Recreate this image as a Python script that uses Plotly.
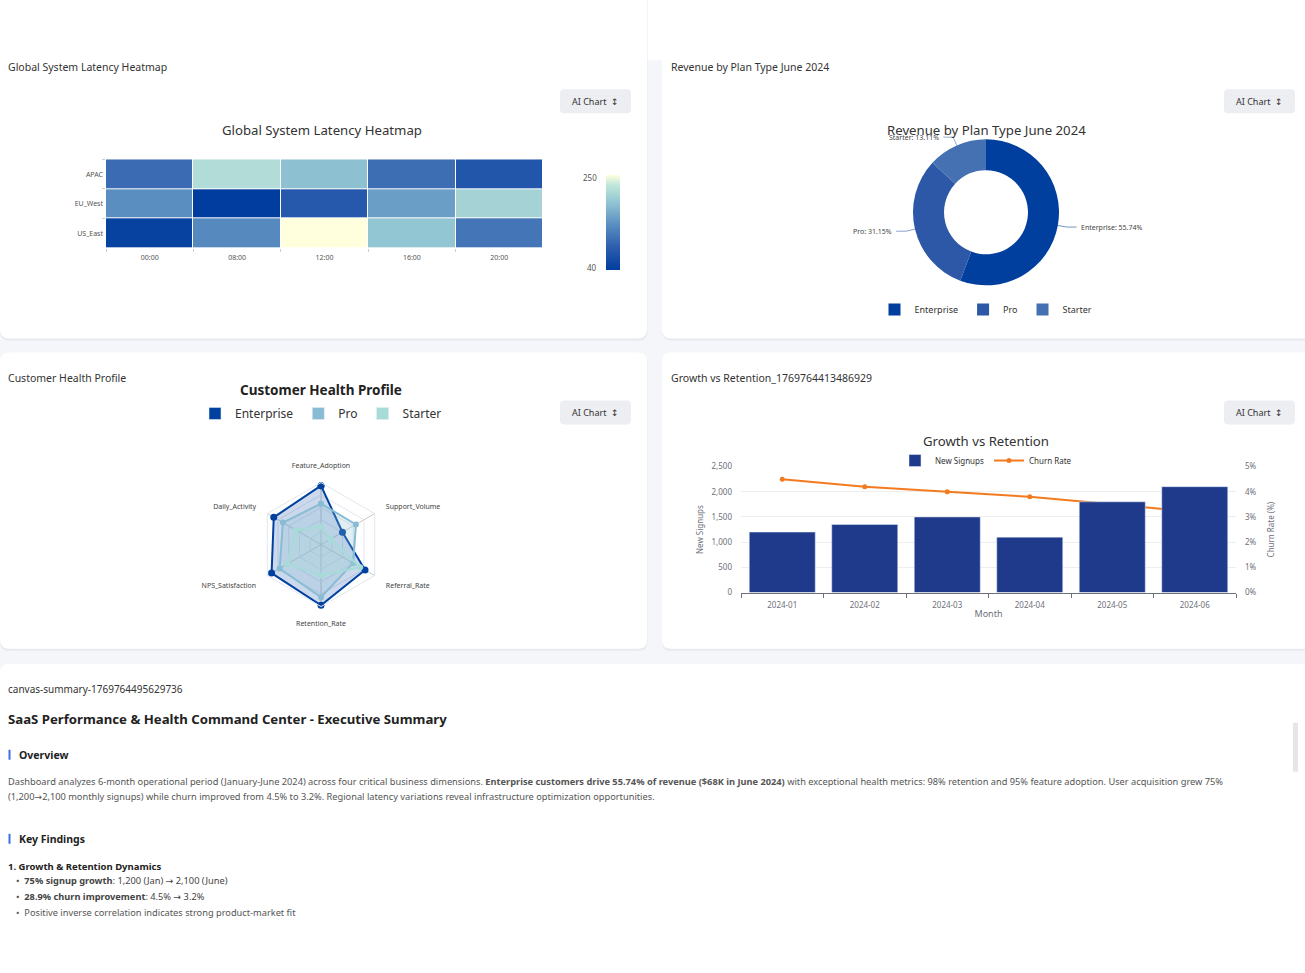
import math
import plotly.graph_objects as go

W, H = 1305, 973
# pixel -> paper fraction; small vertical compensation
# for the capture pipeline (page is rendered slightly compressed/offset vertically)
Y_OFF, Y_SCALE = 5.8, 0.988
def fx(x): return x / W
def fy(y): return 1 - ((y - Y_OFF) / Y_SCALE) / H

# ---------------- data ----------------
hours = ['00:00', '08:00', '12:00', '16:00', '20:00']
regions = ['APAC', 'EU_West', 'US_East']
latency_apac = [105, 215, 185, 108, 78]
latency_eu_west = [140, 40, 82, 155, 205]
latency_us_east = [48, 135, 250, 190, 115]
latency_min, latency_max = 40, 250

plans = ['Enterprise', 'Pro', 'Starter']
revenue_k = [68, 38, 16]

health_metrics = ['Feature_Adoption', 'Support_Volume', 'Referral_Rate',
                  'Retention_Rate', 'NPS_Satisfaction', 'Daily_Activity']
health_enterprise = [95, 40, 82, 98, 92, 88]
health_pro = [66, 65, 60, 85, 77, 71]
health_starter = [29, 18, 73, 50, 63, 47]

months = ['2024-01', '2024-02', '2024-03', '2024-04', '2024-05', '2024-06']
new_signups = [1200, 1350, 1500, 1100, 1800, 2100]
churn_rate = [4.5, 4.2, 4.0, 3.8, 3.5, 3.2]

# ---------------- styles ----------------
FONT = 'Noto Sans, Open Sans, DejaVu Sans, sans-serif'
TXT = '#333333'
AX = '#6e7079'
plan_colors = ['#003f9e', '#2d57a7', '#4570b2']
radar_colors = ['#0041a0', '#88bcd4', '#a6dbd8']
radar_fills = ['rgba(0,65,160,0.20)', 'rgba(136,188,212,0.25)', 'rgba(166,219,216,0.25)']
heat_scale = [[0, '#003d9e'], [0.25, '#2f5fae'], [0.5, '#5f93c2'],
              [0.7, '#8fc3d2'], [0.9, '#c2e8da'], [1, '#ffffdd']]

fig = go.Figure()

# ---------------- heatmap ----------------
fig.add_trace(go.Heatmap(
    z=[latency_apac, latency_eu_west, latency_us_east], x=hours, y=regions,
    zmin=latency_min, zmax=latency_max, colorscale=heat_scale,
    xgap=1, ygap=1, xaxis='x', yaxis='y',
    colorbar=dict(x=fx(606), xanchor='left', y=fy(270), yanchor='bottom',
                  len=fy(175) - fy(270), lenmode='fraction', thickness=14, thicknessmode='pixels',
                  outlinewidth=0, showticklabels=False, ticks='', xpad=0, ypad=0),
))

# ---------------- donut ----------------
fig.add_trace(go.Pie(
    labels=plans, values=revenue_k, hole=0.575, sort=False, direction='clockwise',
    rotation=0, textinfo='none', marker=dict(colors=plan_colors, line=dict(width=0)),
    domain=dict(x=[fx(913), fx(1059)], y=[fy(286), fy(138)]),
    legend='legend2', showlegend=True,
))

# leader lines and labels computed from the data
cx, cy, R = 986, 212, 73
total = sum(revenue_k)
cum = 0.0
pie_annots = []
for lab, v, col in zip(plans, revenue_k, plan_colors):
    frac = v / total
    mid = (cum + frac / 2) * 2 * math.pi
    cum += frac
    sx, sy = math.sin(mid), -math.cos(mid)
    p0 = (cx + R * sx, cy + R * sy)
    p1 = (cx + (R + 9) * sx, cy + (R + 9) * sy)
    side = 1 if sx >= 0 else -1
    p2 = (p1[0] + side * 10, p1[1])
    fig.add_trace(go.Scatter(x=[p0[0], p1[0], p2[0]], y=[p0[1], p1[1], p2[1]],
                             mode='lines', line=dict(color=col, width=1), opacity=0.55,
                             xaxis='x4', yaxis='y4', showlegend=False, hoverinfo='skip'))
    pie_annots.append(dict(x=p2[0] + side * 2, y=p2[1], xref='x4', yref='y4',
                           text=f'{lab}: {frac * 100:.2f}%', showarrow=False,
                           xanchor='left' if side > 0 else 'right', yanchor='middle',
                           font=dict(size=7, color='#444', family=FONT)))

# ---------------- radar ----------------
for name, vals, col, fc, ms in zip(plans, [health_enterprise, health_pro, health_starter],
                                   radar_colors, radar_fills, [7, 6, 6]):
    fig.add_trace(go.Scatterpolar(
        r=vals + [vals[0]], theta=health_metrics + [health_metrics[0]],
        mode='lines+markers', fill='toself', fillcolor=fc,
        line=dict(color=col, width=2), marker=dict(color=col, size=ms),
        name=name, showlegend=False, subplot='polar'))
    fig.add_trace(go.Bar(x=[None], y=[None], name=name, marker_color=col,
                         xaxis='x5', yaxis='y5', legend='legend3', showlegend=True))

# ---------------- growth vs retention ----------------
fig.add_trace(go.Scatter(
    x=months, y=churn_rate, name='Churn Rate', mode='lines+markers',
    line=dict(color='#f47a20', width=2), marker=dict(color='#f47a20', size=5),
    xaxis='x2', yaxis='y2', legend='legend'))
fig.add_trace(go.Bar(
    x=months, y=new_signups, name='New Signups', marker_color='#1f3a8a',
    width=0.8, xaxis='x2', yaxis='y3', legend='legend'))

# ---------------- shapes (cards, buttons) ----------------
def rrect(x0, y0, x1, y1, r):
    X = lambda v: fx(v)
    Y = lambda v: fy(v)
    return (f'M {X(x0 + r)},{Y(y0)} L {X(x1 - r)},{Y(y0)} Q {X(x1)},{Y(y0)} {X(x1)},{Y(y0 + r)} '
            f'L {X(x1)},{Y(y1 - r)} Q {X(x1)},{Y(y1)} {X(x1 - r)},{Y(y1)} '
            f'L {X(x0 + r)},{Y(y1)} Q {X(x0)},{Y(y1)} {X(x0)},{Y(y1 - r)} '
            f'L {X(x0)},{Y(y0 + r)} Q {X(x0)},{Y(y0)} {X(x0 + r)},{Y(y0)} Z')

shapes = [dict(type='rect', xref='paper', yref='paper', x0=0, x1=1, y0=-0.05, y1=fy(60),
               fillcolor='#f4f6f9', line=dict(width=0), layer='below')]
cards = [(0, -20, 647, 338), (662, -20, 1325, 338), (0, 352, 647, 648),
         (662, 352, 1325, 648), (0, 663, 1325, 1000)]
for (a, b, c, d) in cards:
    shapes.append(dict(type='path', xref='paper', yref='paper', path=rrect(a, b + 1.5, c + 0.5, d + 2, 9),
                       fillcolor='#e6e9ee', line=dict(width=0), layer='below'))
    shapes.append(dict(type='path', xref='paper', yref='paper', path=rrect(a, b, c, d, 9),
                       fillcolor='#ffffff', line=dict(width=0), layer='below'))
buttons = [(560, 89, 631, 113), (1224, 89, 1295, 113), (560, 400, 631, 424), (1224, 400, 1295, 424)]
for (a, b, c, d) in buttons:
    shapes.append(dict(type='path', xref='paper', yref='paper', path=rrect(a, b, c, d, 4),
                       fillcolor='#eceef2', line=dict(width=0), layer='below'))
# section markers and scrollbar
for yy in (754, 838):
    shapes.append(dict(type='rect', xref='paper', yref='paper', x0=fx(8.5), x1=fx(10.5),
                       y0=fy(yy + 5), y1=fy(yy - 5), fillcolor='#3a6ee8', line=dict(width=0)))
shapes.append(dict(type='rect', xref='paper', yref='paper', x0=fx(1293), x1=fx(1298),
                   y0=fy(771), y1=fy(722), fillcolor='#e6e6e6', line=dict(width=0)))

# ---------------- annotations ----------------
def txt(x, y, s, size, color=TXT, anchor='left', bold=False, ya='middle'):
    return dict(x=fx(x), y=fy(y), xref='paper', yref='paper', text=(f'<b>{s}</b>' if bold else s),
                showarrow=False, xanchor=anchor, yanchor=ya,
                font=dict(size=size, color=color, family=FONT))

annots = []
annots += pie_annots
annots += [
    txt(6, 67, 'Global System Latency Heatmap', 10.5),
    txt(669, 67, 'Revenue by Plan Type June 2024', 10.5),
    txt(6, 378, 'Customer Health Profile', 10.5),
    txt(669, 378, 'Growth vs Retention_1769764413486929', 10.5),
    txt(322, 130, 'Global System Latency Heatmap', 13.2, anchor='center'),
    txt(986, 130, 'Revenue by Plan Type June 2024', 13.2, anchor='center'),
    txt(321, 390, 'Customer Health Profile', 13.5, color='#222', anchor='center', bold=True),
    txt(986, 440, 'Growth vs Retention', 13.2, anchor='center'),
    txt(599, 177, str(latency_max), 8, color='#555', anchor='right'),
    txt(599, 267, str(latency_min), 8, color='#555', anchor='right'),
]
for (a, b, c, d) in buttons:
    annots.append(txt((a + c) / 2, (b + d) / 2, 'AI Chart&nbsp;&nbsp;↕', 9, color='#333', anchor='center'))

annots += [
    txt(6, 688, 'canvas-summary-1769764495629736', 10, color='#333'),
    txt(6, 718, 'SaaS Performance &amp; Health Command Center - Executive Summary', 13.2, color='#222', bold=True),
    txt(17, 754, 'Overview', 10.5, color='#222', bold=True),
    txt(6, 781, 'Dashboard analyzes 6-month operational period (January-June 2024) across four critical business dimensions. '
              '<b>Enterprise customers drive 55.74% of revenue ($68K in June 2024)</b> with exceptional health metrics: '
              '98% retention and 95% feature adoption. User acquisition grew 75%', 9.25, color='#555'),
    txt(6, 796, '(1,200→2,100 monthly signups) while churn improved from 4.5% to 3.2%. '
              'Regional latency variations reveal infrastructure optimization opportunities.', 9.25, color='#555'),
    txt(17, 838, 'Key Findings', 10.5, color='#222', bold=True),
    txt(6, 866, '1. Growth &amp; Retention Dynamics', 9.5, color='#222', bold=True),
    txt(14, 880, '•&nbsp;&nbsp;<b>75% signup growth</b>: 1,200 (Jan) → 2,100 (June)', 9.25, color='#444'),
    txt(14, 896, '•&nbsp;&nbsp;<b>28.9% churn improvement</b>: 4.5% → 3.2%', 9.25, color='#444'),
    txt(14, 912, '•&nbsp;&nbsp;Positive inverse correlation indicates strong product-market fit', 9.25, color='#555'),
]

# ---------------- layout ----------------
axfont = dict(size=7, color='#555', family=FONT)
fig.update_layout(
    width=W, height=H, margin=dict(l=0, r=0, t=0, b=0),
    paper_bgcolor='#ffffff', plot_bgcolor='rgba(0,0,0,0)',
    font=dict(family=FONT, color=TXT),
    shapes=shapes, annotations=annots, barmode='overlay',
    # heatmap axes
    xaxis=dict(domain=[fx(106), fx(543)], anchor='y', type='category', tickfont=axfont,
               ticks='outside', tickson='boundaries', ticklen=3, tickcolor='#cccccc',
               ticklabelstandoff=4,
               showgrid=False, zeroline=False, showline=False, fixedrange=True),
    yaxis=dict(domain=[fy(248), fy(159)], anchor='x', type='category', autorange='reversed',
               tickfont=axfont, ticks='outside', tickson='boundaries', ticklen=3, tickcolor='#cccccc',
               ticklabelstandoff=2,
               showgrid=False, zeroline=False, showline=False),
    # growth vs retention axes
    xaxis2=dict(domain=[fx(741), fx(1236)], anchor='y2', type='category',
                tickfont=dict(size=8, color=AX), ticks='outside', tickson='boundaries', ticklen=4,
                ticklabelstandoff=5,
                tickcolor=AX, showline=True, linecolor=AX, showgrid=False, zeroline=False,
                title=dict(text='Month', font=dict(size=9, color=AX), standoff=1)),
    yaxis2=dict(domain=[fy(592), fy(466)], anchor='x2', side='right', range=[0, 5], dtick=1,
                ticksuffix='%', tickfont=dict(size=8, color=AX), showgrid=False, zeroline=False,
                ticklabelstandoff=8,
                title=dict(text='Churn Rate (%)', font=dict(size=8, color=AX), standoff=12)),
    yaxis3=dict(overlaying='y2', anchor='x2', side='left', range=[0, 2500], dtick=500,
                tickformat=',', tickfont=dict(size=8, color=AX), gridcolor='#eeeeee',
                zeroline=False, showgrid=True, ticklabelstandoff=8,
                title=dict(text='New Signups', font=dict(size=8, color=AX), standoff=6)),
    # overlay for donut leader lines (1 unit = 1 reference px)
    xaxis4=dict(domain=[fx(840), fx(1140)], range=[840, 1140], anchor='y4', visible=False, fixedrange=True),
    yaxis4=dict(domain=[fy(300), fy(110)], range=[300, 110], anchor='x4', visible=False, fixedrange=True),
    # hidden axes for radar legend entries
    xaxis5=dict(domain=[0.99, 1.0], anchor='y5', visible=False),
    yaxis5=dict(domain=[0.99, 1.0], anchor='x5', visible=False),
    polar=dict(domain=dict(x=[fx(259), fx(383)], y=[fy(607), fy(481)]),
               bgcolor='rgba(0,0,0,0)', gridshape='linear',
               radialaxis=dict(range=[0, 100], dtick=20, showticklabels=False, ticks='',
                               showline=False, gridcolor='#e2e6ef'),
               angularaxis=dict(direction='clockwise', rotation=90, gridcolor='#c9c9c9',
                                linecolor='#e2e6ef', tickfont=dict(size=7, color='#444', family=FONT),
                                ticks='outside', ticklen=11, tickcolor='rgba(0,0,0,0)')),
    legend=dict(x=fx(986), y=fy(460), xanchor='center', yanchor='middle', orientation='h',
                font=dict(size=8, color='#333'), bgcolor='rgba(0,0,0,0)', traceorder='reversed'),
    legend2=dict(x=fx(986), y=fy(309), xanchor='center', yanchor='middle', orientation='h',
                 font=dict(size=9, color='#333'), bgcolor='rgba(0,0,0,0)'),
    legend3=dict(x=fx(321), y=fy(413), xanchor='center', yanchor='middle', orientation='h',
                 font=dict(size=12, color='#333'), bgcolor='rgba(0,0,0,0)'),
)

fig.write_html('out.html', config={'displayModeBar': False},
               post_script="document.documentElement.style.margin='0';"
                           "document.body.style.margin='0';document.body.style.padding='0';"
                           "document.body.style.overflow='hidden';"
                           "var d=document.getElementById('{plot_id}');"
                           "if(d){d.style.position='fixed';d.style.left='0px';d.style.top='0px';}")
